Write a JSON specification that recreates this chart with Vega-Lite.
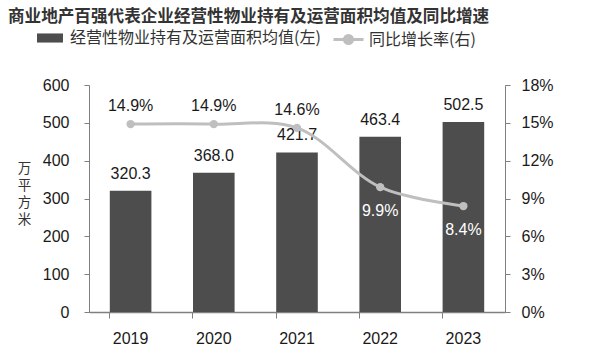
{
  "$schema": "https://vega.github.io/schema/vega-lite/v6.json",
  "width": 416,
  "height": 227,
  "autosize": {"type": "none"},
  "padding": {"left": 89, "top": 85, "right": 93, "bottom": 39},
  "background": "white",
  "config": {
    "font": "Liberation Sans, Noto Sans CJK SC, sans-serif",
    "view": {"stroke": null},
    "axis": {"domainColor": "#7f7f7f", "tickColor": "#7f7f7f", "labelColor": "#1a1a1a", "labelFontSize": 16, "labelFont": "Liberation Sans, Noto Sans CJK SC, sans-serif", "grid": false}
  },
  "title": {
    "text": "商业地产百强代表企业经营性物业持有及运营面积均值及同比增速",
    "anchor": "start",
    "frame": "group",
    "dx": -81,
    "offset": -3,
    "fontSize": 16.6,
    "fontWeight": "bold",
    "color": "#333333",
    "font": "Noto Sans CJK SC, sans-serif"
  },
  "data": {
    "values": [
      {"year": "2019", "area": 320.3, "rate": 14.9, "series": "经营性物业持有及运营面积均值(左)", "series2": "同比增长率(右)"},
      {"year": "2020", "area": 368.0, "rate": 14.9, "series": "经营性物业持有及运营面积均值(左)", "series2": "同比增长率(右)"},
      {"year": "2021", "area": 421.7, "rate": 14.6, "series": "经营性物业持有及运营面积均值(左)", "series2": "同比增长率(右)"},
      {"year": "2022", "area": 463.4, "rate": 9.9, "series": "经营性物业持有及运营面积均值(左)", "series2": "同比增长率(右)"},
      {"year": "2023", "area": 502.5, "rate": 8.4, "series": "经营性物业持有及运营面积均值(左)", "series2": "同比增长率(右)"}
    ]
  },
  "encoding": {
    "x": {
      "field": "year", "type": "nominal",
      "scale": {"paddingInner": 0.5, "paddingOuter": 0.25},
      "axis": {"title": null, "labelAngle": 0, "ticks": true, "tickSize": 6, "tickColor": "#7f7f7f", "bandPosition": 0, "labelPadding": 12, "domainColor": "#7f7f7f", "domainWidth": 1.5}
    }
  },
  "layer": [
    {
      "encoding": {
        "y": {
          "field": "area", "type": "quantitative",
          "scale": {"domain": [0, 600]},
          "axis": {
            "values": [0, 100, 200, 300, 400, 500, 600],
            "title": ["万", "平", "方", "米"],
            "titleAngle": 0,
            "titleX": -65,
            "titleY": 83,
            "titleAlign": "center",
            "titleBaseline": "middle",
            "titleFontSize": 13.5,
            "titleFontWeight": "normal",
            "titleLineHeight": 17,
            "titleColor": "#333333",
            "titleFont": "Noto Sans CJK SC, sans-serif",
            "tickSize": 5,
            "labelPadding": 15
          }
        }
      },
      "layer": [
        {
          "mark": {"type": "bar"},
          "encoding": {
            "fill": {
              "field": "series", "type": "nominal",
              "scale": {"range": ["#4d4d4d"]},
              "legend": {
                "title": null,
                "orient": "none",
                "legendX": -52,
                "legendY": -60,
                "symbolType": "M-1,-0.35H1V0.35H-1Z",
                "symbolSize": 676,
                "symbolStrokeWidth": 0,
                "labelFontSize": 16,
                "labelLimit": 400,
                "labelFont": "Noto Sans CJK SC, sans-serif",
                "labelColor": "#333333",
                "labelOffset": 7,
                "padding": 0
              }
            }
          }
        },
        {
          "mark": {"type": "text", "baseline": "bottom", "dy": -9, "fontSize": 16, "color": "#1a1a1a"},
          "encoding": {
            "text": {"field": "area", "type": "quantitative", "format": ".1f"}
          }
        }
      ]
    },
    {
      "transform": [{"calculate": "format(datum.rate, '.1f') + '%'", "as": "label"}],
      "encoding": {
        "y": {
          "field": "rate", "type": "quantitative",
          "scale": {"domain": [0, 18]},
          "axis": {
            "orient": "right",
            "values": [0, 3, 6, 9, 12, 15, 18],
            "labelExpr": "datum.value + '%'",
            "title": null,
            "tickSize": 5,
            "labelPadding": 11
          }
        }
      },
      "layer": [
        {
          "mark": {"type": "line", "interpolate": "catmull-rom", "strokeWidth": 3},
          "encoding": {
            "stroke": {
              "field": "series2", "type": "nominal",
              "scale": {"range": ["#bfbfbf"]},
              "legend": {
                "title": null,
                "orient": "none",
                "legendX": 243,
                "legendY": -62,
                "symbolType": "M-1,0H1M-0.27,0A0.27,0.27 0 1,0 0.27,0A0.27,0.27 0 1,0 -0.27,0",
                "symbolSize": 900,
                "symbolStrokeWidth": 3,
                "symbolFillColor": "#bfbfbf",
                "labelFontSize": 16,
                "labelLimit": 400,
                "labelFont": "Noto Sans CJK SC, sans-serif",
                "labelColor": "#333333",
                "labelOffset": 4,
                "padding": 0
              }
            }
          }
        },
        {
          "mark": {"type": "point", "filled": true, "size": 70, "color": "#bfbfbf", "opacity": 1}
        },
        {
          "transform": [{"filter": "datum.rate > 12"}],
          "mark": {"type": "text", "baseline": "bottom", "dy": -10, "fontSize": 16, "color": "#1a1a1a"},
          "encoding": {
            "text": {"field": "label", "type": "nominal"}
          }
        },
        {
          "transform": [{"filter": "datum.rate <= 12"}],
          "mark": {"type": "text", "baseline": "top", "dy": 16, "fontSize": 16, "color": "white"},
          "encoding": {
            "text": {"field": "label", "type": "nominal"}
          }
        }
      ]
    }
  ],
  "resolve": {"scale": {"y": "independent", "fill": "independent", "stroke": "independent"}}
}
